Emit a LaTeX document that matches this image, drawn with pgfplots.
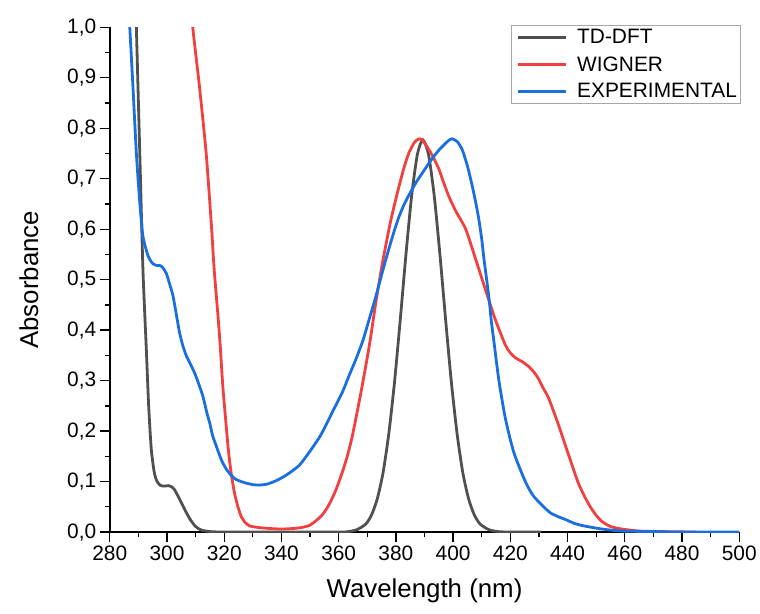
\documentclass[border=0pt]{standalone}
\usepackage{fontspec}
\setmainfont{Liberation Sans}
\usepackage{pgfplots}
\pgfplotsset{compat=1.18}
\definecolor{tddft}{HTML}{505050}
\definecolor{wigner}{HTML}{F14040}
\definecolor{expt}{HTML}{1A6FDF}

\begin{document}
\begin{tikzpicture}
\begin{axis}[name=ax,
  scale only axis, width=631bp, height=506bp,
  xmin=280, xmax=500, ymin=0, ymax=1,
  axis lines*=left,
  axis line style={line width=1.6bp},
  xtick={280,300,320,340,360,380,400,420,440,460,480,500},
  ytick={0,0.1,0.2,0.3,0.4,0.5,0.6,0.7,0.8,0.9,1.0},
  minor x tick num=1, minor y tick num=1,
  tick align=outside,
  major tick length=10bp, minor tick length=5bp,
  every tick/.style={black, line width=1.3bp},
  tick label style={font=\fontsize{21}{24}\selectfont},
  xticklabel style={/pgf/number format/assume math mode=true},
  yticklabel style={/pgf/number format/.cd, fixed, fixed zerofill, precision=1, use comma, assume math mode=true},
  label style={font=\fontsize{26}{30}\selectfont},
  xlabel={Wavelength (nm)}, ylabel={Absorbance},
  xlabel shift=12bp, ylabel shift=22bp,
  legend style={at={(1,1)}, anchor=north east, xshift=2bp, yshift=2bp,
    draw=gray!70, line width=0.8bp, font=\fontsize{21}{24}\selectfont,
    inner sep=2bp, row sep=7bp, cells={anchor=west}},
  legend image code/.code={\draw[#1] (0bp,0bp) -- (48bp,0bp); \path (-3bp,0bp) (56bp,0bp);},
  every axis plot/.append style={line width=2.8bp, smooth, tension=0.4},
]
\addplot[tddft] coordinates {
(288.5,1.15) (289.3,1.0) (290.5,0.75) (291.6,0.52) (292.8,0.36) (293.6,0.25)
(294.5,0.165) (295.5,0.12) (296.3,0.103) (297.5,0.093) (299,0.091) (300.5,0.092)
(301.5,0.090) (302.5,0.085) (304,0.07) (306,0.047) (308,0.026) (310,0.011)
(312,0.004) (315,0.001) (320,0) (340,0) (360,0)
(363.5,0.001) (366.5,0.005) (369.5,0.016) (371.5,0.034) (373.5,0.066) (375.5,0.117)
(377.5,0.194) (379.5,0.296) (381.5,0.419) (383.5,0.549) (385.5,0.666) (387.5,0.748)
(389.4,0.777) (391.4,0.748) (393.4,0.666) (395.4,0.549) (397.4,0.419) (399.4,0.296)
(401.4,0.194) (403.4,0.117) (405.4,0.066) (407.4,0.034) (409.4,0.016) (412.4,0.005)
(415.5,0.001) (420,0) (430.8,0)
};
\addlegendentry{TD-DFT}
\addplot[wigner] coordinates {
(308.5,1.05) (309.0,1.0) (311.4,0.88) (313.7,0.75) (315.5,0.61) (316.5,0.52)
(317.8,0.43) (318.6,0.37) (319.5,0.29) (320.7,0.21) (321.5,0.16) (322.4,0.118)
(323.5,0.08) (324.7,0.052) (326,0.03) (327.5,0.018) (329,0.012) (332,0.009)
(336,0.007) (340,0.006) (344,0.007) (347,0.009) (349.7,0.013) (352,0.022)
(354.4,0.035) (356.7,0.055) (359,0.083) (361.3,0.119) (363,0.15) (364.8,0.191)
(367.8,0.277) (370.7,0.369) (373,0.455) (375.3,0.533) (378.2,0.617) (381.1,0.685)
(383,0.725) (384.6,0.752) (386.5,0.772) (388.1,0.779) (389.5,0.775) (391.6,0.757)
(393.3,0.74) (395.1,0.718) (396.2,0.70) (398.5,0.665) (401,0.635) (404.4,0.60)
(407.9,0.54) (411.3,0.48) (414.8,0.42) (418.3,0.37) (420,0.355) (421.8,0.345)
(424,0.338) (426.4,0.328) (428.5,0.315) (429.9,0.303) (431.5,0.285) (433.4,0.265)
(436.9,0.211) (440.4,0.152) (443.9,0.095) (447.4,0.055) (450,0.033) (452,0.021)
(455,0.011) (459,0.006) (465,0.002) (472,0.001) (485,0)
};
\addlegendentry{WIGNER}
\addplot[expt] coordinates {
(286.5,1.05) (287.0,1.0) (288.1,0.883) (289.3,0.751) (290.5,0.652) (291.6,0.586)
(293.4,0.547) (295,0.532) (296.5,0.528) (297.5,0.528) (298.5,0.524) (299.8,0.512)
(301,0.49) (302.1,0.468) (303.3,0.43) (304.4,0.395) (305.5,0.37) (306.7,0.35)
(308,0.335) (309.6,0.316) (311,0.295) (312.5,0.27) (314,0.235) (314.9,0.217)
(316,0.19) (317.2,0.171) (319,0.143) (320.7,0.125) (322.5,0.112) (324.2,0.104)
(327,0.098) (330,0.094) (332.3,0.093) (335,0.095) (337,0.099) (339.3,0.105)
(342,0.114) (346.2,0.132) (349.7,0.158) (353.2,0.187) (355.5,0.211) (358,0.24)
(361.3,0.277) (363.5,0.308) (366,0.342) (368.5,0.38) (370.7,0.422) (372.5,0.457)
(374.1,0.49) (376,0.53) (377.6,0.562) (379.5,0.598) (381.1,0.625) (382.8,0.648)
(384.6,0.668) (387,0.692) (389.2,0.711) (391.6,0.731) (393.5,0.746) (395.1,0.757)
(397,0.768) (398.5,0.776) (399.7,0.779) (401.5,0.773) (403.2,0.757) (405,0.725)
(406.7,0.685) (408,0.65) (409,0.619) (410,0.58) (410.8,0.54) (412.5,0.465)
(413.3,0.42) (414.2,0.38) (416,0.30) (418.3,0.224) (421.2,0.158) (425.3,0.099)
(428,0.072) (431.1,0.053) (434,0.038) (436.9,0.030) (439.2,0.025) (442,0.018)
(445,0.013) (452,0.006) (459,0.002) (470,0.001) (480,0) (500,0)
};
\addlegendentry{EXPERIMENTAL}
\end{axis}
\path ([xshift=-110bp,yshift=-81.7bp]ax.south west) rectangle ([xshift=19bp,yshift=27.3bp]ax.north east);
\end{tikzpicture}
\end{document}
